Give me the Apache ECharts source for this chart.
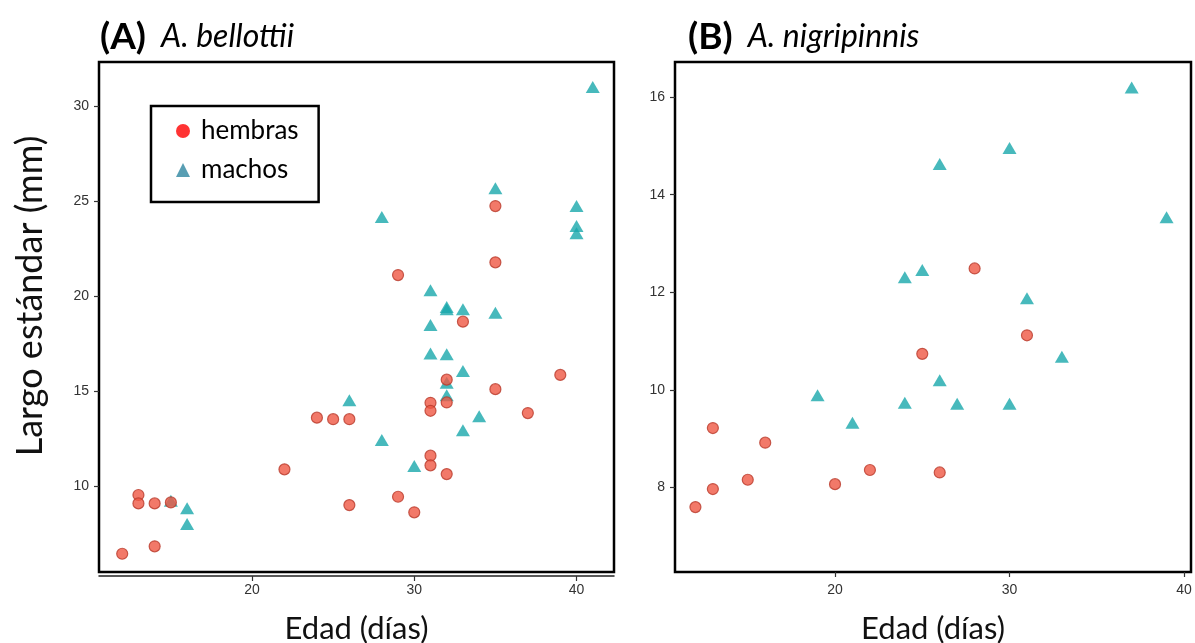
<!DOCTYPE html>
<html>
<head>
<meta charset="utf-8">
<script src="https://cdn.jsdelivr.net/npm/echarts@6/dist/echarts.min.js"></script>
<style>
  html, body { margin: 0; padding: 0; background: #fff; }
  #chart { width: 1195px; height: 643px; }
</style>
</head>
<body>
<div id="chart"></div>
<script>
// Panel A — A. bellottii: [edad (días), largo estándar (mm)]
const bellottiiHembras = [
  [12, 6.44], [13, 9.53], [13, 9.09], [14, 9.09], [14, 6.83], [15, 9.14],
  [22, 10.88], [24, 13.6], [25, 13.52], [26, 13.52], [26, 9.0],
  [29, 21.1], [29, 9.44], [30, 8.62],
  [31, 14.38], [31, 13.96], [31, 11.6], [31, 11.09],
  [32, 15.6], [32, 14.4], [32, 10.63], [33, 18.65],
  [35, 24.73], [35, 21.77], [35, 15.1], [37, 13.84], [39, 15.85]
];
const bellottiiMachos = [
  [41, 31.0], [35, 25.67], [40, 24.73], [40, 23.68], [40, 23.3],
  [28, 24.15], [31, 20.3], [32, 19.42], [32, 19.3], [33, 19.3], [35, 19.12],
  [31, 18.48], [31, 16.97], [32, 16.93], [33, 16.06], [32, 15.43], [32, 14.78],
  [26, 14.52], [34, 13.68], [33, 12.94], [28, 12.42], [30, 11.05],
  [15, 9.23], [16, 8.83], [16, 8.0]
];

// Panel B — A. nigripinnis: [edad (días), largo estándar (mm)]
const nigripinnisHembras = [
  [12, 7.6], [13, 9.22], [13, 7.97], [15, 8.16], [16, 8.92],
  [20, 8.07], [22, 8.36], [25, 10.74], [26, 8.31], [28, 12.49], [31, 11.12]
];
const nigripinnisMachos = [
  [37, 16.2], [39, 13.54], [30, 14.96], [26, 14.63], [25, 12.46], [24, 12.31],
  [31, 11.88], [33, 10.68], [26, 10.2], [19, 9.89], [21, 9.33],
  [24, 9.74], [27, 9.72], [30, 9.72]
];

// Tick positions
const ticksEdad = [20, 30, 40];
const ticksLargoA = [10, 15, 20, 25, 30];
const ticksLargoB = [8, 10, 12, 14, 16];

// Text
const panelTags = ['(A)', '(B)'];
const speciesNames = ['A. bellottii', 'A. nigripinnis'];
const seriesNames = ['hembras', 'machos'];
const xTitle = 'Edad (días)';
const yTitle = 'Largo estándar (mm)';

const TEXT_FONT = 'Lato, "Open Sans", sans-serif';
const TICK_FONT = '"Liberation Sans", Arial, sans-serif';

const circleStyle = { color: '#ef5844', borderColor: '#b9392a', borderWidth: 1.2 };
const triangleStyle = { color: '#19a8ab' };

function xAxisFor(gridIndex, min, max, offset, showLine) {
  return {
    type: 'value', gridIndex, min, max, offset,
    name: xTitle, nameLocation: 'middle', nameGap: 41 - offset,
    nameTextStyle: { fontFamily: TEXT_FONT, fontSize: 31, color: '#111' },
    splitLine: { show: false },
    axisLine: { show: showLine, onZero: false, lineStyle: { color: '#222', width: 1.5 } },
    axisTick: { show: true, length: 5, customValues: ticksEdad, lineStyle: { color: '#333', width: 1.2 } },
    axisLabel: { customValues: ticksEdad, margin: 11 - offset, fontFamily: TICK_FONT, fontSize: 14, color: '#333' }
  };
}

function yAxisFor(gridIndex, min, max, ticks) {
  return {
    type: 'value', gridIndex, min, max,
    splitLine: { show: false },
    axisLine: { show: false },
    axisTick: { show: true, length: 5, customValues: ticks, lineStyle: { color: '#333', width: 1.2 } },
    axisLabel: { customValues: ticks, margin: 10, fontFamily: TICK_FONT, fontSize: 14, color: '#333' }
  };
}

function titleFor(i, left) {
  return {
    left, top: 16, padding: 0,
    text: '{p|' + panelTags[i] + '}{s|' + speciesNames[i] + '}',
    textStyle: {
      rich: {
        p: { fontFamily: TEXT_FONT, fontSize: 37, fontWeight: 'bold', color: '#000', lineHeight: 42 },
        s: { fontFamily: TEXT_FONT, fontSize: 32, fontStyle: 'italic', fontWeight: 'normal', color: '#000', lineHeight: 42, padding: [0, 0, 0, 15] }
      }
    }
  };
}

function gridAt(left, width) {
  return {
    left, top: 62, width, height: 510,
    outerBoundsMode: 'none', containLabel: false,
    show: true, borderColor: '#000', borderWidth: 2.5, backgroundColor: 'transparent'
  };
}

const chart = echarts.init(document.getElementById('chart'), null, { renderer: 'canvas' });

chart.setOption({
  animation: false,
  backgroundColor: '#fff',
  title: [titleFor(0, 100), titleFor(1, 688)],
  grid: [gridAt(99, 515), gridAt(675, 516)],
  xAxis: [
    xAxisFor(0, 10.57, 42.31, 4, true),
    xAxisFor(1, 10.83, 40.4, 0, false)
  ],
  yAxis: [
    yAxisFor(0, 5.48, 32.31, ticksLargoA),
    yAxisFor(1, 6.27, 16.72, ticksLargoB)
  ],
  legend: {
    left: 151, top: 106, orient: 'vertical',
    padding: [12, 20, 19, 25],
    borderColor: '#000', borderWidth: 2.5, backgroundColor: '#fff',
    itemWidth: 14, itemHeight: 14, itemGap: 13,
    selectedMode: false,
    textStyle: { fontFamily: TEXT_FONT, fontSize: 26, lineHeight: 26, color: '#000', padding: [0, 0, 0, 6] },
    data: [
      { name: seriesNames[0], icon: 'circle', itemStyle: { color: '#ff0000', borderWidth: 0 } },
      { name: seriesNames[1], icon: 'triangle', itemStyle: { color: '#2e86a0', borderWidth: 0 } }
    ]
  },
  graphic: [
    {
      type: 'text', x: 30, y: 296, rotation: Math.PI / 2,
      style: { text: yTitle, font: '36px ' + TEXT_FONT, fill: '#111', align: 'center', verticalAlign: 'middle' }
    }
  ],
  series: [
    { name: seriesNames[1], type: 'scatter', xAxisIndex: 0, yAxisIndex: 0, data: bellottiiMachos,
      symbol: 'triangle', symbolSize: [14, 12], itemStyle: triangleStyle, z: 2 },
    { name: seriesNames[0], type: 'scatter', xAxisIndex: 0, yAxisIndex: 0, data: bellottiiHembras,
      symbol: 'circle', symbolSize: 11, itemStyle: circleStyle, z: 3 },
    { name: seriesNames[1], type: 'scatter', xAxisIndex: 1, yAxisIndex: 1, data: nigripinnisMachos,
      symbol: 'triangle', symbolSize: [14, 12], itemStyle: triangleStyle, z: 2 },
    { name: seriesNames[0], type: 'scatter', xAxisIndex: 1, yAxisIndex: 1, data: nigripinnisHembras,
      symbol: 'circle', symbolSize: 11, itemStyle: circleStyle, z: 3 }
  ]
});
</script>
</body>
</html>
